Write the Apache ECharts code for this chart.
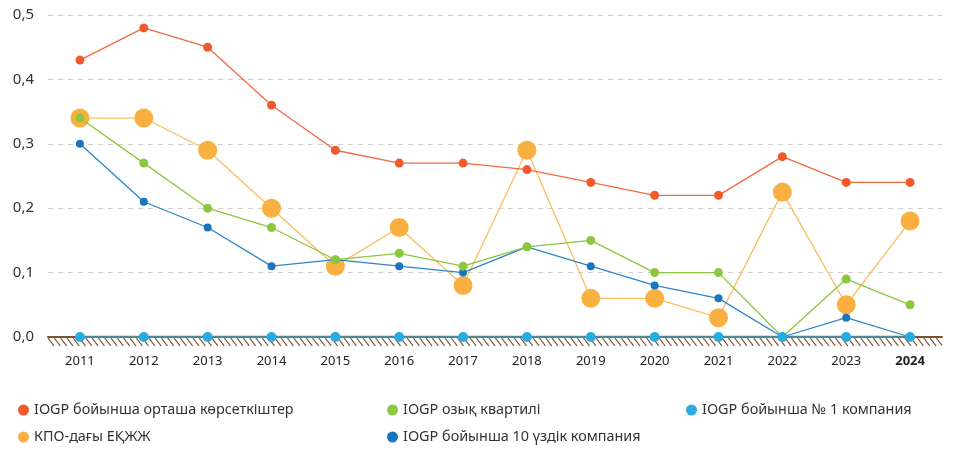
<!DOCTYPE html>
<html>
<head>
<meta charset="utf-8">
<script src="https://cdn.jsdelivr.net/npm/echarts@6/dist/echarts.min.js"></script>
<style>html,body{margin:0;padding:0;background:#fff}#c{width:964px;height:461px}</style>
</head>
<body>
<div id="c"></div>
<script>
var years = ['2011','2012','2013','2014','2015','2016','2017','2018','2019','2020','2021','2022','2023','2024'];
var yTicks = [0, 0.1, 0.2, 0.3, 0.4, 0.5];
var nameAvg = 'IOGP бойынша орташа көрсеткіштер';
var nameKpo = 'КПО-дағы ЕҚЖЖ';
var nameQuart = 'IOGP озық квартилі';
var nameTop10 = 'IOGP бойынша 10 үздік компания';
var nameNo1 = 'IOGP бойынша № 1 компания';
var avgVals = [0.43, 0.48, 0.45, 0.36, 0.29, 0.27, 0.27, 0.26, 0.24, 0.22, 0.22, 0.28, 0.24, 0.24];
var kpoVals = [0.34, 0.34, 0.29, 0.20, 0.11, 0.17, 0.08, 0.29, 0.06, 0.06, 0.03, 0.225, 0.05, 0.18];
var quartVals = [0.34, 0.27, 0.20, 0.17, 0.12, 0.13, 0.11, 0.14, 0.15, 0.10, 0.10, 0.00, 0.09, 0.05];
var top10Vals = [0.30, 0.21, 0.17, 0.11, 0.12, 0.11, 0.10, 0.14, 0.11, 0.08, 0.06, 0.00, 0.03, 0.00];
var no1Vals = [0, 0, 0, 0, 0, 0, 0, 0, 0, 0, 0, 0, 0, 0];

var FONT = '"Noto Sans", sans-serif';
var chart = echarts.init(document.getElementById('c'), null, {renderer: 'canvas'});
function fmt(v){ return v.toFixed(1).replace('.', ','); }
var legendText = {fontFamily: FONT, fontSize: 14.4, color: '#333'};
var option = {
  animation: false,
  grid: {left: 48, right: 22, top: 15, bottom: 124, containLabel: false},
  legend: [
    {left: 13, top: 398, orient: 'vertical', itemGap: 13, icon: 'circle', itemWidth: 11, itemHeight: 11, textStyle: legendText, data: [nameAvg, nameKpo]},
    {left: 382, top: 398, orient: 'vertical', itemGap: 13, icon: 'circle', itemWidth: 11, itemHeight: 11, textStyle: legendText, data: [nameQuart, nameTop10]},
    {left: 681, top: 398, orient: 'vertical', itemGap: 13, icon: 'circle', itemWidth: 11, itemHeight: 11, textStyle: legendText, data: [nameNo1]}
  ],
  xAxis: {
    type: 'category', data: years, boundaryGap: true,
    axisLine: {show: true, lineStyle: {color: '#7a5230', width: 2}},
    axisTick: {show: false},
    axisLabel: {interval: 0, margin: 18, fontFamily: FONT, fontSize: 13, color: '#222',
      formatter: function(v){ return v === '2024' ? '{b|' + v + '}' : v; },
      rich: {b: {fontFamily: FONT, fontSize: 13, fontWeight: 'bold', color: '#222'}}}
  },
  yAxis: {
    type: 'value', min: yTicks[0], max: yTicks[yTicks.length-1], interval: 0.1,
    axisLine: {show: false}, axisTick: {show: false},
    axisLabel: {margin: 14, fontFamily: FONT, fontSize: 15, color: '#333', formatter: fmt},
    splitLine: {show: true, lineStyle: {color: '#cfcfcf', type: [5, 5], width: 1.2}}
  },
  series: [
    {name: nameKpo, type: 'line', data: kpoVals, z: 2, symbol: 'circle', symbolSize: 19,
      itemStyle: {color: '#f9b041'}, lineStyle: {color: '#fbbd5e', width: 1.3}},
    {name: nameAvg, type: 'line', data: avgVals, z: 3, symbol: 'circle', symbolSize: 9,
      itemStyle: {color: '#f15a2b'}, lineStyle: {color: '#f26a3e', width: 1.3}},
    {name: nameTop10, type: 'line', data: top10Vals, z: 4, symbol: 'circle', symbolSize: 8,
      itemStyle: {color: '#1b75bc'}, lineStyle: {color: '#2a86c9', width: 1.3}},
    {name: nameQuart, type: 'line', data: quartVals, z: 5, symbol: 'circle', symbolSize: 9,
      itemStyle: {color: '#8dc63f'}, lineStyle: {color: '#8dc63f', width: 1.3}},
    {name: nameNo1, type: 'line', data: no1Vals, z: 6, symbol: 'circle', symbolSize: 10,
      itemStyle: {color: '#29abe2'}, lineStyle: {color: '#4e8995', width: 2.5}}
  ]
};
chart.setOption(option);

// hatching under the baseline
var rect = chart.getModel().getComponent('grid').coordinateSystem.getRect();
var y0 = chart.convertToPixel({yAxisIndex: 0}, 0);
var hatch = [];
for (var x = rect.x; x < rect.x + rect.width - 2; x += 6.3) {
  var dx = Math.min(6, rect.x + rect.width - x);
  hatch.push({type: 'line', shape: {x1: x, y1: y0 + 1, x2: x + dx, y2: y0 + 1 + dx * 1.3},
    style: {stroke: '#7a5230', lineWidth: 1.2}, silent: true});
}
chart.setOption({graphic: [{type: 'group', z: 1, children: hatch}]});
</script>
</body>
</html>
